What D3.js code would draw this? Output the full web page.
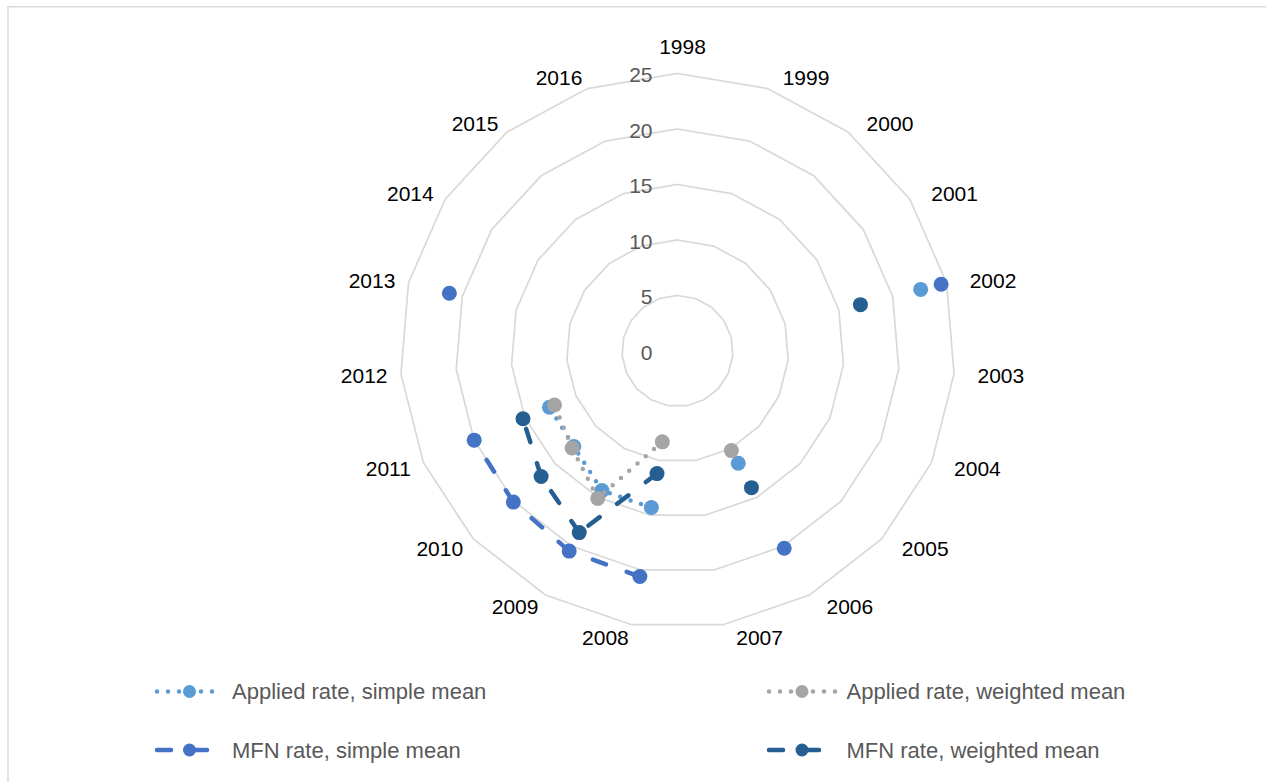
<!DOCTYPE html>
<html>
<head>
<meta charset="utf-8">
<script src="https://cdn.jsdelivr.net/npm/d3@7"></script>
<style>
  html, body { margin: 0; padding: 0; background: #fff; }
  svg { display: block; font-family: "Liberation Sans", Arial, sans-serif; }
</style>
</head>
<body>
<svg id="chart" width="1266" height="782"></svg>
<script>
// Years around the radar (one spoke per year)
const years = ["1998","1999","2000","2001","2002","2003","2004","2005","2006","2007",
               "2008","2009","2010","2011","2012","2013","2014","2015","2016"];
// Radial axis ticks
const radialTicks = [0, 5, 10, 15, 20, 25];

// Tariff rates (%), null where no figure is reported
const appliedSimple   = [null,null,null,null,22.6,null,null,null,11.5,null,14.3,14.3,12.7,12.6,null,null,null,null,null];
const appliedWeighted = [null,null,null,null,null,null,null,null,10.2,null, 8.3,15.1,12.9,12.1,null,null,null,null,null];
const mfnSimple       = [null,null,null,null,24.5,null,null,null,20.2,null,20.6,20.5,20.1,20.0,null,21.2,null,null,null];
const mfnWeighted     = [null,null,null,null,17.0,null,null,null,14.0,null,11.2,18.6,16.7,15.2,null,null,null,null,null];

const seriesNames = ["Applied rate, simple mean", "Applied rate, weighted mean",
                     "MFN rate, simple mean", "MFN rate, weighted mean"];

const series = [
  { name: seriesNames[0], values: appliedSimple,   color: "#5B9BD5", dash: "0,11",  width: 4.5 },
  { name: seriesNames[1], values: appliedWeighted, color: "#A5A5A5", dash: "0,11",  width: 4.5 },
  { name: seriesNames[2], values: mfnSimple,       color: "#4472C4", dash: "14,22", width: 4.5 },
  { name: seriesNames[3], values: mfnWeighted,     color: "#255E91", dash: "14,22", width: 4.5 }
];

const svg = d3.select("#chart");
const cx = 677.5, cy = 351, R = 277.5;

// outer chart frame
svg.append("rect")
  .attr("x", 8).attr("y", 6.7).attr("width", 1300).attr("height", 800)
  .attr("fill", "#fff").attr("stroke", "#D9D9D9").attr("stroke-width", 1.5);

const rScale = d3.scaleLinear().domain([0, 25]).range([0, R]);
const aScale = d3.scaleLinear().domain([0, years.length]).range([0, 2 * Math.PI]);

const g = svg.append("g").attr("transform", `translate(${cx},${cy})`);

// grid polygons
const ring = t => d3.lineRadial()
  .angle((d, i) => aScale(i))
  .radius(rScale(t))
  .curve(d3.curveLinearClosed)(years);

g.append("g").selectAll("path")
  .data(radialTicks.filter(t => t > 0))
  .join("path")
  .attr("d", d => ring(d))
  .attr("fill", "none")
  .attr("stroke", "#D9D9D9")
  .attr("stroke-width", 1.75);

// radial tick labels
g.append("g").selectAll("text")
  .data(radialTicks)
  .join("text")
  .attr("x", -25)
  .attr("y", d => -rScale(d) + 1.5)
  .attr("dy", "0.35em")
  .attr("text-anchor", "end")
  .attr("font-size", 21)
  .attr("fill", "#595959")
  .text(d => d);

// category labels around the outside
const labelR = rScale(25) + 12.5;
g.append("g").selectAll("text")
  .data(years)
  .join("text")
  .each(function(d, i) {
    const th = aScale(i);
    const [px, py] = d3.pointRadial(th, labelR);
    const s = Math.sin(th);
    const t = d3.select(this);
    if (Math.abs(s) < 1e-6) {
      t.attr("x", px + 5).attr("y", py - 6.7).attr("text-anchor", "middle");
    } else if (s > 0) {
      t.attr("x", px + 11).attr("y", py + 1).attr("dy", "0.35em").attr("text-anchor", "start");
    } else {
      t.attr("x", px - 1).attr("y", py + 1).attr("dy", "0.35em").attr("text-anchor", "end");
    }
  })
  .attr("font-size", 21)
  .attr("fill", "#000")
  .text(d => d);

// series: each year-to-year segment is its own path so the dash pattern starts at each point
const pt = (v, i) => d3.pointRadial(aScale(i), rScale(v));
const segLine = d3.line();

series.forEach(s => {
  const sg = g.append("g");
  const segs = [];
  for (let i = 0; i < s.values.length - 1; i++) {
    if (s.values[i] != null && s.values[i + 1] != null) {
      segs.push([pt(s.values[i], i), pt(s.values[i + 1], i + 1)]);
    }
  }
  sg.selectAll("path")
    .data(segs)
    .join("path")
    .attr("d", d => segLine(d))
    .attr("fill", "none")
    .attr("stroke", s.color)
    .attr("stroke-width", s.width)
    .attr("stroke-dasharray", s.dash)
    .attr("stroke-linecap", "round");

  const pts = s.values.map((v, i) => ({ v, i })).filter(d => d.v != null);
  sg.selectAll("circle")
    .data(pts)
    .join("circle")
    .attr("cx", d => pt(d.v, d.i)[0])
    .attr("cy", d => pt(d.v, d.i)[1])
    .attr("r", 7.5)
    .attr("fill", s.color);
});

// legend (two rows, two columns)
const legendCols = [{ x0: 157, x1: 223, m: 189.5, tx: 232 }, { x0: 769, x1: 836, m: 802, tx: 846.5 }];
const legendRows = [691.5, 750];
series.forEach((s, k) => {
  const col = legendCols[k % 2], y = legendRows[Math.floor(k / 2)];
  const lg = svg.append("g");
  lg.append("line")
    .attr("x1", col.x0).attr("x2", col.x1).attr("y1", y).attr("y2", y)
    .attr("stroke", s.color).attr("stroke-width", s.width)
    .attr("stroke-dasharray", s.dash).attr("stroke-linecap", "round");
  lg.append("circle").attr("cx", col.m).attr("cy", y).attr("r", 6.5).attr("fill", s.color);
  lg.append("text")
    .attr("x", col.tx).attr("y", y).attr("dy", "0.35em")
    .attr("font-size", 22).attr("fill", "#595959")
    .text(s.name);
});
</script>
</body>
</html>
